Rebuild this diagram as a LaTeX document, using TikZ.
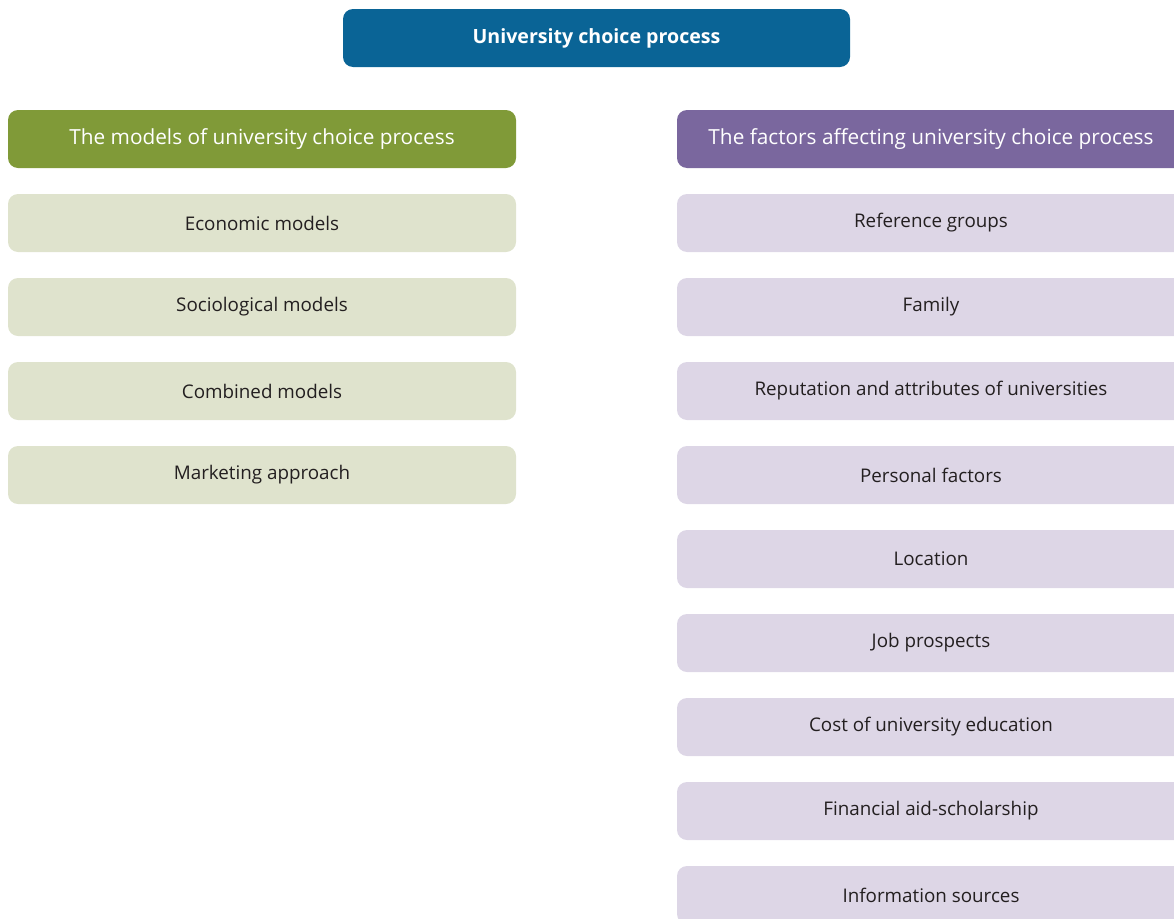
\documentclass[tikz,border=0pt]{standalone}
\usepackage{fontspec}
\setmainfont{Open Sans}
\definecolor{titleblue}{HTML}{0A6496}
\definecolor{modelgreen}{HTML}{809A38}
\definecolor{modellight}{HTML}{DFE3CD}
\definecolor{factorpurple}{HTML}{7A679E}
\definecolor{factorlight}{HTML}{DDD6E6}
\definecolor{itemtext}{HTML}{231F20}
\begin{document}
\begin{tikzpicture}[x=1pt,y=-1pt,
  box/.style={rounded corners=10pt, minimum height=58pt, inner sep=0pt, anchor=center},
  titlebox/.style={box, fill=titleblue, text=white, minimum width=507pt, font=\fontsize{19.6}{22}\selectfont\bfseries},
  headbox/.style={box, text=white, minimum width=508pt, font=\fontsize{20.8}{23}\selectfont},
  itembox/.style={box, text=itemtext, minimum width=508pt, font=\fontsize{18.8}{21}\selectfont},
  modelhead/.style={headbox, fill=modelgreen},
  modelitem/.style={itembox, fill=modellight},
  factorhead/.style={headbox, fill=factorpurple},
  factoritem/.style={itembox, fill=factorlight}]
\useasboundingbox (0,0) rectangle (1174,918);
\clip (0,0) rectangle (1174,918);
% title
\node[titlebox] (title) at (596.5,38) {University choice process};
% models column
\node[modelhead] (mh) at (262,139) {The models of university choice process};
\node[modelitem] (m1) at (262,223) {Economic models};
\node[modelitem] (m2) at (262,307) {Sociological models};
\node[modelitem] (m3) at (262,391) {Combined models};
\node[modelitem] (m4) at (262,475) {Marketing approach};
% factors column
\node[factorhead] (fh) at (931,139) {The factors affecting university choice process};
\node[factoritem] (f1) at (931,223) {Reference groups};
\node[factoritem] (f2) at (931,307) {Family};
\node[factoritem] (f3) at (931,391) {Reputation and attributes of universities};
\node[factoritem] (f4) at (931,475) {Personal factors};
\node[factoritem] (f5) at (931,559) {Location};
\node[factoritem] (f6) at (931,643) {Job prospects};
\node[factoritem] (f7) at (931,727) {Cost of university education};
\node[factoritem] (f8) at (931,811) {Financial aid-scholarship};
\node[factoritem] (f9) at (931,895) {Information sources};
\end{tikzpicture}
\end{document}
